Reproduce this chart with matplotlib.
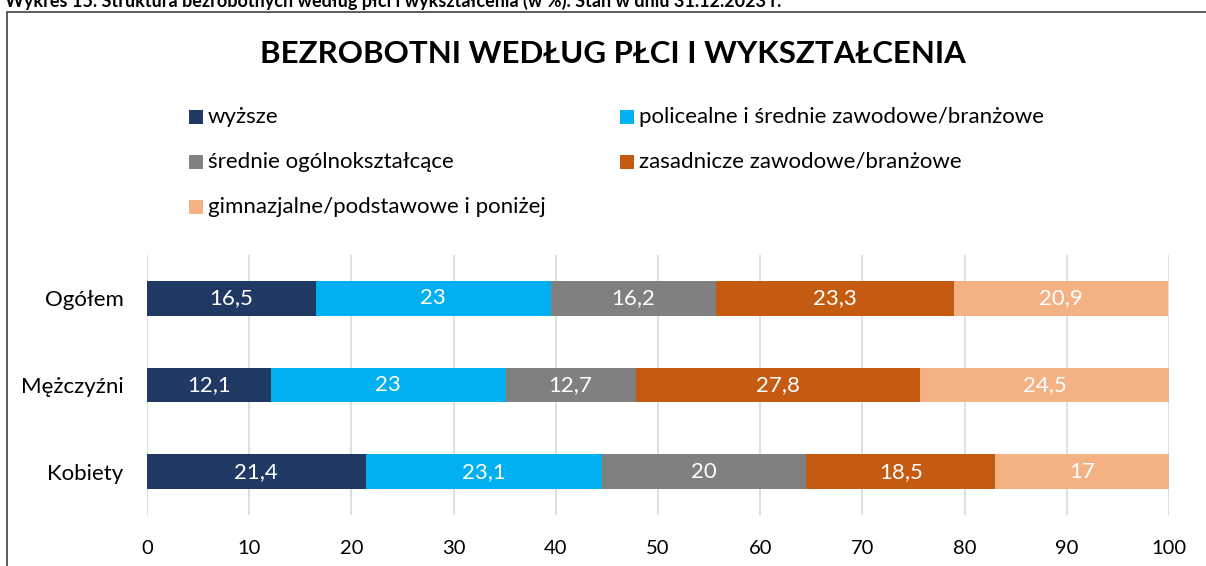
import matplotlib
matplotlib.use("Agg")
import matplotlib.pyplot as plt
from matplotlib.patches import Rectangle
import numpy as np

plt.rcParams['font.family'] = ['Lato', 'DejaVu Sans']

categories = ["Ogółem", "Mężczyźni", "Kobiety"]
series_names = ["wyższe", "policealne i średnie zawodowe/branżowe",
                "średnie ogólnokształcące", "zasadnicze zawodowe/branżowe",
                "gimnazjalne/podstawowe i poniżej"]
values = [
    [16.5, 12.1, 21.4],
    [23, 23, 23.1],
    [16.2, 12.7, 20],
    [23.3, 27.8, 18.5],
    [20.9, 24.5, 17],
]
labels = [
    ["16,5", "12,1", "21,4"],
    ["23", "23", "23,1"],
    ["16,2", "12,7", "20"],
    ["23,3", "27,8", "18,5"],
    ["20,9", "24,5", "17"],
]
colors = ["#203864", "#00B0F0", "#808080", "#C55A11", "#F4B183"]
xticks = [0, 10, 20, 30, 40, 50, 60, 70, 80, 90, 100]

W, H = 1206, 566
fig = plt.figure(figsize=(W / 100, H / 100), dpi=100)

# outer frame
fig.patches.append(Rectangle((7 / W, -0.1), 1.2, 1 - 12 / H + 0.1, transform=fig.transFigure,
                             fill=False, edgecolor="#404040", linewidth=1.2))
# cut-off caption at top
fig.text(5 / W, 1 - 1 / H, "Wykres 15. Struktura bezrobotnych według płci i wykształcenia (w %). Stan w dniu 31.12.2023 r.",
         fontsize=13, fontweight="bold", ha="left", va="center", color="black")

ax = fig.add_axes([147 / W, 1 - 515 / H, (1169 - 147) / W, (515 - 255) / H])
y = np.arange(len(categories))
left = np.zeros(len(categories))
for vals, labs, col, name in zip(values, labels, colors, series_names):
    bars = ax.barh(y, vals, left=left, height=0.4, color=col, label=name, zorder=3)
    for b, lab in zip(bars, labs):
        ax.text(b.get_x() + b.get_width() / 2, b.get_y() + b.get_height() / 2, lab,
                ha="center", va="center", color="white", fontsize=16, zorder=4)
    left += np.array(vals)

ax.set_xlim(0, 100)
ax.set_ylim(2.5, -0.5)
ax.set_yticks(y)
ax.set_yticklabels(categories, fontsize=16)
ax.set_xticks(xticks)
ax.set_xticklabels([str(t) for t in xticks], fontsize=14.5)
ax.tick_params(axis="both", length=0)
ax.tick_params(axis="x", pad=18)
ax.tick_params(axis="y", pad=17)
ax.grid(axis="x", color="#D9D9D9", linewidth=1.2, zorder=0)
for s in ax.spines.values():
    s.set_visible(False)

fig.text(613 / W, 1 - 54 / H, "BEZROBOTNI WEDŁUG PŁCI I WYKSZTAŁCENIA", fontsize=22.5,
         fontweight="bold", ha="center", va="center")

# legend
leg_pos = [(189, 117), (620, 117), (189, 162), (620, 162), (189, 207)]
for (px, py), col, name in zip(leg_pos, colors, series_names):
    fig.patches.append(Rectangle((px / W, 1 - (py + 7) / H), 14 / W, 14 / H,
                                 transform=fig.transFigure, facecolor=col, edgecolor="none"))
    fig.text((px + 19) / W, 1 - py / H, name, fontsize=16, ha="left", va="center")

fig.savefig("out.png", dpi=100)
